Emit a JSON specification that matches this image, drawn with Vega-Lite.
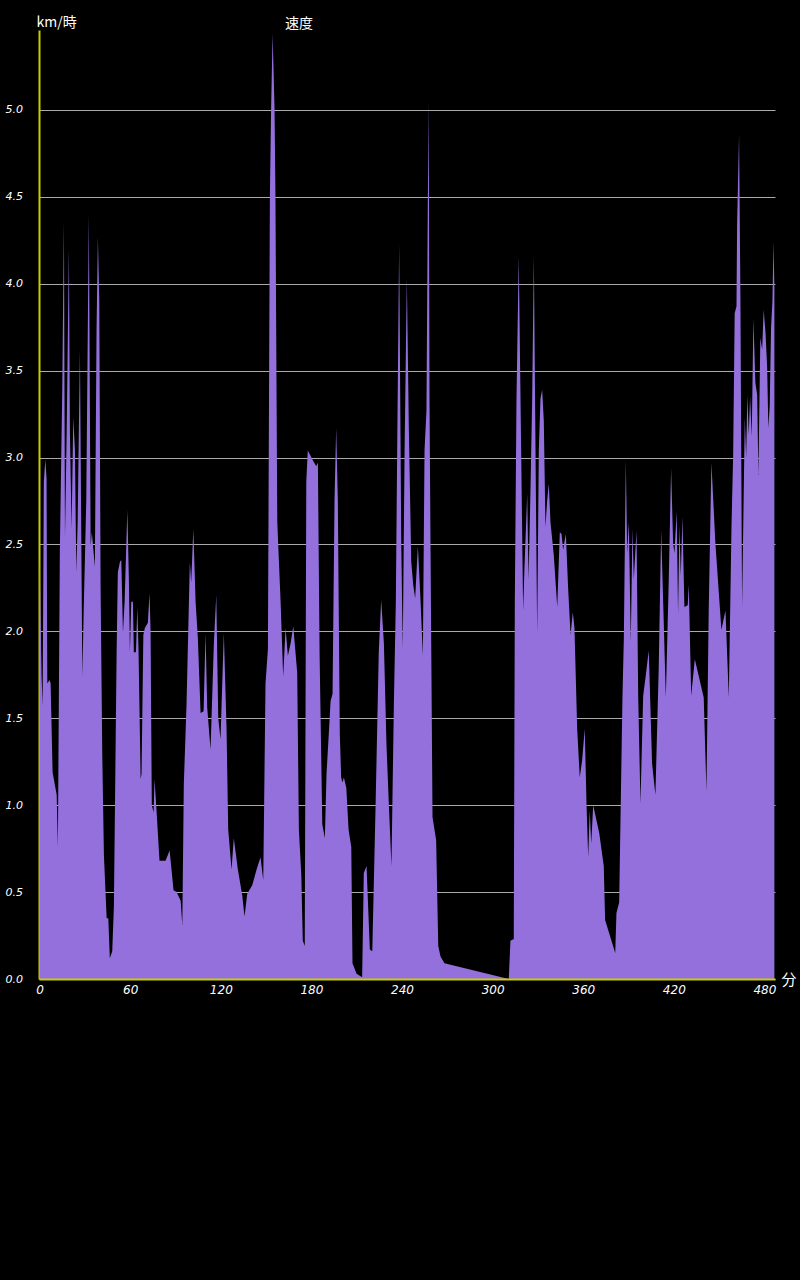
{
  "$schema": "https://vega.github.io/schema/vega-lite/v6.json",
  "width": 736,
  "height": 949,
  "autosize": {"type": "none"},
  "padding": {"left": 39, "top": 30, "right": 25, "bottom": 301},
  "background": "black",
  "config": {"view": {"stroke": null}, "font": "Noto Sans CJK JP"},
  "title": {"text": "速度", "anchor": "start", "frame": "group", "dx": 246, "dy": 18, "offset": 2, "color": "white", "fontSize": 14, "fontWeight": "normal", "font": "Noto Sans CJK JP"},
  "data": {"values": [
    {"t":0,"v":2.46},{"t":1.3,"v":1.74},{"t":2.0,"v":1.57},{"t":2.8,"v":2.86},{"t":3.8,"v":2.99},{"t":4.6,"v":2.88},{"t":5.1,"v":1.70},{"t":6.6,"v":1.72},{"t":7.3,"v":1.70},{"t":8.6,"v":1.19},{"t":11.3,"v":1.06},{"t":12.1,"v":0.76},{"t":13.4,"v":2.46},{"t":15.0,"v":3.39},{"t":16.1,"v":4.36},{"t":16.8,"v":2.54},{"t":17.9,"v":3.13},{"t":19.4,"v":4.20},{"t":20.1,"v":3.13},{"t":21.2,"v":2.59},{"t":22.3,"v":3.23},{"t":23.4,"v":3.04},{"t":24.3,"v":2.34},{"t":25.2,"v":2.63},{"t":26.7,"v":3.62},{"t":28.3,"v":1.74},{"t":29.3,"v":2.16},{"t":30.9,"v":2.75},{"t":32.6,"v":4.40},{"t":33.8,"v":2.49},{"t":34.6,"v":2.57},{"t":36.6,"v":2.37},{"t":37.7,"v":3.73},{"t":38.6,"v":4.27},{"t":39.5,"v":3.91},{"t":40.4,"v":2.25},{"t":41.5,"v":1.29},{"t":42.6,"v":0.71},{"t":44.4,"v":0.35},{"t":45.5,"v":0.35},{"t":46.5,"v":0.12},{"t":48.1,"v":0.16},{"t":49.2,"v":0.42},{"t":51.0,"v":1.88},{"t":51.8,"v":2.34},{"t":53.2,"v":2.40},{"t":54.1,"v":2.41},{"t":55.2,"v":1.99},{"t":56.3,"v":2.17},{"t":58.1,"v":2.70},{"t":59.1,"v":2.31},{"t":59.8,"v":1.88},{"t":60.7,"v":2.17},{"t":61.8,"v":2.17},{"t":62.4,"v":1.88},{"t":63.8,"v":1.88},{"t":64.7,"v":2.14},{"t":65.5,"v":1.90},{"t":66.9,"v":1.15},{"t":67.5,"v":1.18},{"t":68.7,"v":1.98},{"t":69.7,"v":2.02},{"t":71.7,"v":2.05},{"t":72.8,"v":2.22},{"t":73.5,"v":2.0},{"t":74.3,"v":1.0},{"t":75.5,"v":0.96},{"t":76.1,"v":1.15},{"t":77.5,"v":0.96},{"t":79.4,"v":0.68},{"t":83.4,"v":0.68},{"t":86.1,"v":0.74},{"t":88.7,"v":0.51},{"t":90.7,"v":0.50},{"t":93.4,"v":0.45},{"t":94.5,"v":0.31},{"t":95.5,"v":1.12},{"t":97.3,"v":1.58},{"t":99.5,"v":2.40},{"t":100.4,"v":2.28},{"t":101.8,"v":2.59},{"t":103.3,"v":2.17},{"t":104.8,"v":1.96},{"t":106.6,"v":1.53},{"t":108.6,"v":1.54},{"t":109.9,"v":1.99},{"t":111.0,"v":1.56},{"t":113.2,"v":1.32},{"t":115.4,"v":1.93},{"t":117.0,"v":2.21},{"t":118.3,"v":1.50},{"t":119.8,"v":1.38},{"t":122.0,"v":1.99},{"t":123.8,"v":1.44},{"t":124.9,"v":0.86},{"t":127.1,"v":0.63},{"t":128.6,"v":0.81},{"t":131.3,"v":0.63},{"t":134.2,"v":0.48},{"t":135.7,"v":0.36},{"t":137.5,"v":0.49},{"t":140.8,"v":0.54},{"t":143.7,"v":0.63},{"t":146.3,"v":0.70},{"t":148.1,"v":0.57},{"t":149.6,"v":1.70},{"t":151.2,"v":1.90},{"t":152.5,"v":4.5},{"t":153.3,"v":5.0},{"t":154.3,"v":5.44},{"t":155.6,"v":5.0},{"t":156.2,"v":4.48},{"t":157.4,"v":2.63},{"t":159.6,"v":2.17},{"t":161.3,"v":1.74},{"t":162.9,"v":2.02},{"t":164.4,"v":1.86},{"t":166.2,"v":1.93},{"t":168.0,"v":2.03},{"t":170.6,"v":1.76},{"t":171.7,"v":0.86},{"t":173.3,"v":0.60},{"t":174.3,"v":0.22},{"t":175.6,"v":0.19},{"t":176.6,"v":2.86},{"t":177.6,"v":3.04},{"t":181.2,"v":2.98},{"t":183.2,"v":2.95},{"t":184.3,"v":2.97},{"t":185.4,"v":1.88},{"t":187.2,"v":0.89},{"t":188.9,"v":0.81},{"t":190.0,"v":1.18},{"t":191.5,"v":1.41},{"t":192.7,"v":1.60},{"t":194.0,"v":1.64},{"t":195.3,"v":2.75},{"t":196.4,"v":3.17},{"t":197.5,"v":2.75},{"t":198.8,"v":1.41},{"t":199.7,"v":1.16},{"t":200.6,"v":1.13},{"t":201.5,"v":1.16},{"t":203.1,"v":1.10},{"t":204.6,"v":0.86},{"t":206.4,"v":0.76},{"t":207.2,"v":0.09},{"t":209.9,"v":0.03},{"t":213.6,"v":0.01},{"t":214.7,"v":0.61},{"t":216.5,"v":0.65},{"t":218.7,"v":0.17},{"t":220.3,"v":0.16},{"t":222.5,"v":1.0},{"t":224.6,"v":1.88},{"t":226.2,"v":2.18},{"t":228.0,"v":1.93},{"t":229.7,"v":1.35},{"t":231.3,"v":1.0},{"t":233.0,"v":0.65},{"t":234.6,"v":1.58},{"t":235.9,"v":2.17},{"t":236.8,"v":3.04},{"t":238.1,"v":4.23},{"t":239.5,"v":2.51},{"t":240.5,"v":1.90},{"t":241.7,"v":3.04},{"t":243.2,"v":4.03},{"t":244.5,"v":3.18},{"t":246.1,"v":2.40},{"t":247.4,"v":2.27},{"t":248.7,"v":2.19},{"t":250.5,"v":2.49},{"t":252.3,"v":2.17},{"t":253.8,"v":1.86},{"t":254.9,"v":3.04},{"t":256.2,"v":3.27},{"t":257.1,"v":4.49},{"t":257.7,"v":5.05},{"t":258.2,"v":3.33},{"t":258.9,"v":2.46},{"t":260.2,"v":0.93},{"t":262.6,"v":0.80},{"t":264.0,"v":0.19},{"t":265.5,"v":0.13},{"t":268.1,"v":0.09},{"t":310.7,"v":0.0},{"t":311.8,"v":0.22},{"t":314.0,"v":0.23},{"t":314.7,"v":2.17},{"t":315.8,"v":3.33},{"t":317.3,"v":4.16},{"t":318.9,"v":3.04},{"t":320.2,"v":2.12},{"t":321.1,"v":2.37},{"t":322.9,"v":2.79},{"t":323.8,"v":2.30},{"t":325.1,"v":2.82},{"t":326.2,"v":3.34},{"t":327.3,"v":4.16},{"t":328.4,"v":3.04},{"t":329.5,"v":1.99},{"t":330.6,"v":3.04},{"t":331.7,"v":3.34},{"t":332.8,"v":3.39},{"t":333.9,"v":3.21},{"t":335.0,"v":2.60},{"t":336.1,"v":2.75},{"t":337.2,"v":2.85},{"t":338.3,"v":2.63},{"t":340.5,"v":2.44},{"t":342.8,"v":2.14},{"t":344.5,"v":2.57},{"t":345.6,"v":2.56},{"t":346.7,"v":2.47},{"t":348.5,"v":2.56},{"t":350.0,"v":2.25},{"t":351.6,"v":1.98},{"t":353.1,"v":2.11},{"t":354.2,"v":2.02},{"t":356.0,"v":1.44},{"t":357.7,"v":1.16},{"t":359.3,"v":1.26},{"t":361.0,"v":1.44},{"t":362.2,"v":1.0},{"t":363.3,"v":0.70},{"t":364.3,"v":0.97},{"t":365.3,"v":0.78},{"t":366.6,"v":1.0},{"t":370.6,"v":0.84},{"t":373.6,"v":0.65},{"t":374.5,"v":0.34},{"t":381.2,"v":0.15},{"t":382.0,"v":0.38},{"t":383.8,"v":0.44},{"t":386.0,"v":1.63},{"t":386.9,"v":1.96},{"t":388.2,"v":2.99},{"t":389.1,"v":2.45},{"t":390.2,"v":2.63},{"t":391.5,"v":1.94},{"t":392.6,"v":2.59},{"t":393.5,"v":2.30},{"t":395.3,"v":2.58},{"t":396.4,"v":1.63},{"t":397.9,"v":1.01},{"t":399.7,"v":1.63},{"t":401.2,"v":1.73},{"t":403.4,"v":1.89},{"t":405.6,"v":1.24},{"t":407.8,"v":1.06},{"t":410.0,"v":1.79},{"t":411.6,"v":2.58},{"t":413.3,"v":2.06},{"t":414.7,"v":1.62},{"t":416.6,"v":2.28},{"t":418.2,"v":2.94},{"t":419.5,"v":2.51},{"t":420.4,"v":2.45},{"t":421.9,"v":2.69},{"t":422.8,"v":2.10},{"t":423.7,"v":2.61},{"t":424.6,"v":2.32},{"t":425.7,"v":2.66},{"t":427.0,"v":2.14},{"t":429.2,"v":2.15},{"t":429.9,"v":2.27},{"t":431.5,"v":1.63},{"t":433.9,"v":1.84},{"t":439.8,"v":1.62},{"t":441.6,"v":1.08},{"t":443.1,"v":2.12},{"t":444.9,"v":2.97},{"t":447.5,"v":2.51},{"t":451.5,"v":2.01},{"t":454.2,"v":2.12},{"t":456.4,"v":1.62},{"t":458.2,"v":2.61},{"t":459.3,"v":3.02},{"t":460.3,"v":3.83},{"t":461.5,"v":3.87},{"t":461.9,"v":4.34},{"t":463.2,"v":4.86},{"t":464.1,"v":3.92},{"t":465.2,"v":2.14},{"t":467.0,"v":3.23},{"t":467.9,"v":3.00},{"t":468.7,"v":3.36},{"t":469.6,"v":3.13},{"t":470.5,"v":3.35},{"t":471.6,"v":3.12},{"t":472.7,"v":3.80},{"t":474.0,"v":3.43},{"t":475.2,"v":3.36},{"t":476.0,"v":2.90},{"t":477.3,"v":3.69},{"t":478.5,"v":3.62},{"t":479.5,"v":3.85},{"t":480.7,"v":3.72},{"t":481.8,"v":3.52},{"t":482.6,"v":3.17},{"t":483.5,"v":3.30},{"t":484.4,"v":3.75},{"t":485.3,"v":3.90},{"t":486.0,"v":4.24},{"t":486.6,"v":3.98}
  ]},
  "mark": {"type": "area", "color": "#9370DB", "interpolate": "linear"},
  "encoding": {
    "x": {
      "field": "t", "type": "quantitative",
      "scale": {"domain": [-0.4, 487], "nice": false, "zero": false},
      "axis": {
        "values": [0, 60, 120, 180, 240, 300, 360, 420, 480],
        "zindex": 1,
        "domainColor": "#cccc00", "domainWidth": 2,
        "ticks": false, "tickSize": 0, "grid": false,
        "labelColor": "white", "labelFontSize": 12, "labelFontStyle": "italic", "labelFont": "DejaVu Sans", "labelPadding": 5, "labelFlush": false,
        "title": "分", "titleColor": "white", "titleFontSize": 15, "titleFontWeight": "normal",
        "titleX": 742, "titleY": 0, "titleAlign": "left", "titleBaseline": "middle"
      }
    },
    "y": {
      "field": "v", "type": "quantitative",
      "scale": {"domain": [0, 5.46], "nice": false},
      "axis": {
        "values": [0, 0.5, 1, 1.5, 2, 2.5, 3, 3.5, 4, 4.5, 5],
        "format": ".1f",
        "domainColor": "#cccc00", "domainWidth": 2,
        "ticks": false, "tickSize": 0,
        "grid": true, "gridColor": "#aaaaaa", "gridWidth": 1,
        "labelColor": "white", "labelFontSize": 11, "labelFontStyle": "italic", "labelFont": "DejaVu Sans", "labelAlign": "left", "labelPadding": 34,
        "title": "km/時", "titleAngle": 0, "titleX": -3, "titleY": -4, "titleAlign": "left", "titleBaseline": "alphabetic",
        "titleColor": "white", "titleFontSize": 14, "titleFontWeight": "normal"
      }
    }
  }
}
